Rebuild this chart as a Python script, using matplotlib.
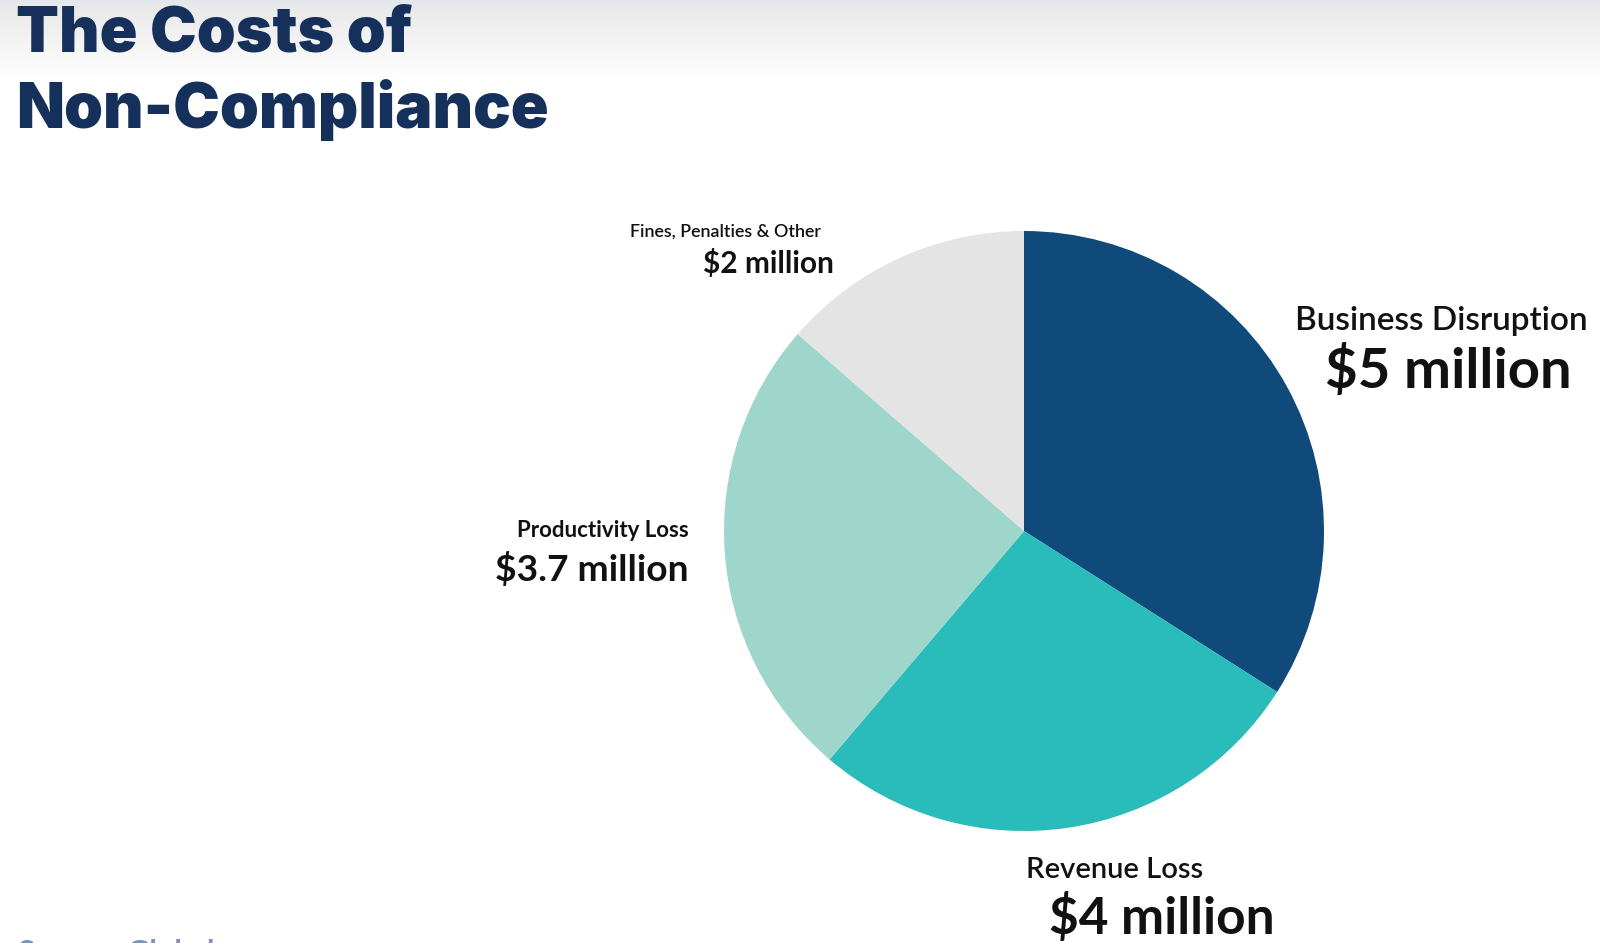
import numpy as np
import matplotlib
matplotlib.use("Agg")
import matplotlib.pyplot as plt

# Data
categories = ["Business Disruption", "Revenue Loss", "Productivity Loss", "Fines, Penalties & Other"]
values = [5.0, 4.0, 3.7, 2.0]
value_labels = ["$5 million", "$4 million", "$3.7 million", "$2 million"]
colors = ["#0f4a7a", "#2abcbb", "#9ed6cb", "#e4e4e4"]

W, H = 1600, 943
fig = plt.figure(figsize=(W / 100, H / 100), dpi=100)
fig.patch.set_facecolor("white")

def px(x, y):
    return x / W, 1 - y / H

# top gradient band
bg = fig.add_axes([0, 1 - 80 / H, 1, 80 / H])
grad = np.linspace(0, 1, 80).reshape(-1, 1)
c0 = np.array([0.905, 0.905, 0.905])
c1 = np.array([1.0, 1.0, 1.0])
img = c0[None, None, :] * (1 - grad[..., None]) + c1[None, None, :] * grad[..., None]
img = np.repeat(img, 2, axis=1)
bg.imshow(img, aspect="auto", extent=[0, 1, 0, 1], origin="upper")
bg.axhline(0.99, color="#e3e8ee", lw=2)
bg.set_axis_off()

# Pie
cx, cy, r = 1024, 531, 300
ax = fig.add_axes([(cx - r) / W, (H - cy - r) / H, 2 * r / W, 2 * r / H])
ax.pie(values, colors=colors, startangle=90, counterclock=False, radius=1,
       wedgeprops=dict(linewidth=0))
ax.set_xlim(-1, 1)
ax.set_ylim(-1, 1)
ax.set_aspect("equal")
ax.set_axis_off()

navy = "#15305a"
fam = ["Lato", "DejaVu Sans"]
tfam = ["Inter", "DejaVu Sans"]

# Title
fig.text(*px(16, 51), "The Costs of", fontsize=45, fontweight=900, color=navy,
         family=tfam, va="baseline", ha="left")
fig.text(*px(16, 128), "Non-Compliance", fontsize=45, fontweight=900, color=navy,
         family=tfam, va="baseline", ha="left")

txt = "#111111"
# Business Disruption
fig.text(*px(1441, 330), categories[0], fontsize=24, fontweight=600, color=txt,
         family=fam, va="baseline", ha="center")
fig.text(*px(1448, 388), value_labels[0], fontsize=40.5, fontweight=700, color=txt,
         family=fam, va="baseline", ha="center")
# Revenue Loss
fig.text(*px(1026, 878), categories[1], fontsize=21, fontweight=600, color=txt,
         family=fam, va="baseline", ha="left")
fig.text(*px(1049, 934), value_labels[1], fontsize=37, fontweight=700, color=txt,
         family=fam, va="baseline", ha="left")
# Productivity Loss
fig.text(*px(689, 537), categories[2], fontsize=16, fontweight=700, color=txt,
         family=fam, va="baseline", ha="right")
fig.text(*px(689, 581), value_labels[2], fontsize=26.7, fontweight=700, color=txt,
         family=fam, va="baseline", ha="right")
# Fines
fig.text(*px(821, 237), categories[3], fontsize=12.9, fontweight=600, color=txt,
         family=fam, va="baseline", ha="right")
fig.text(*px(834, 273), value_labels[3], fontsize=21.5, fontweight=700, color=txt,
         family=fam, va="baseline", ha="right")

# Source (cut off at bottom)
fig.text(*px(18, 962), "Source: Globalscape", fontsize=22, fontweight=700,
         color="#8090b8", family=fam, va="baseline", ha="left")

fig.savefig("out.png", dpi=100, facecolor="white")
